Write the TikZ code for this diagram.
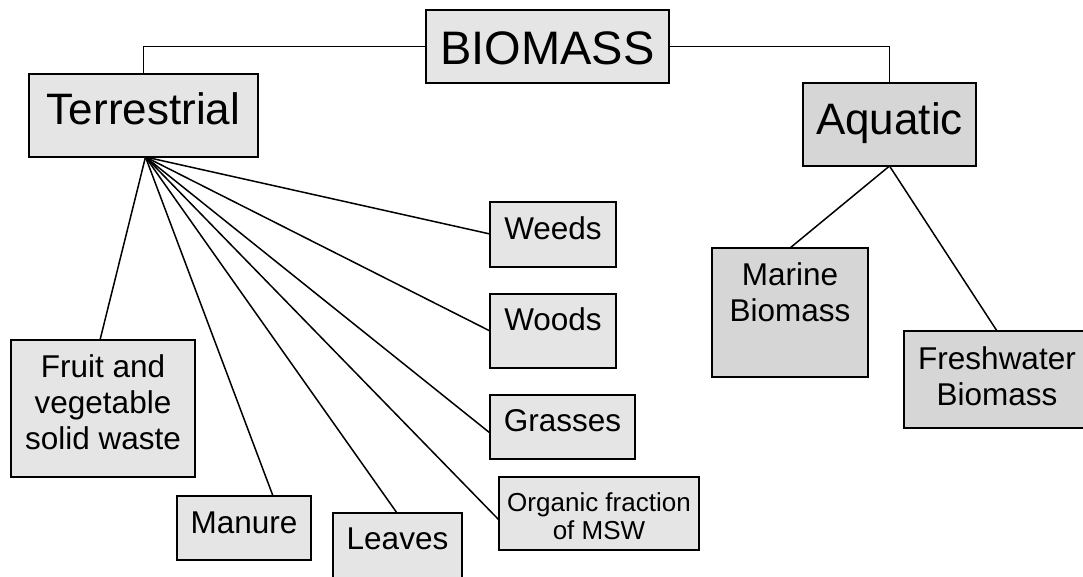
\documentclass[tikz,border=0pt]{standalone}
\usepackage{fontspec}
\setmainfont{Liberation Sans}
\definecolor{boxlight}{HTML}{E5E5E5}
\definecolor{boxdark}{HTML}{D6D6D6}
% \boxtext{width}{height}{top gap}{font size}{line skip}{text}
\newcommand{\boxtext}[6]{%
  \parbox[c][#2pt][t]{#1pt}{\centering\fontsize{#4pt}{#5pt}\selectfont
    \vspace*{#3pt}#6\par}}
\begin{document}
\begin{tikzpicture}[x=1pt,y=-1pt,
  box/.style={draw=black, line width=1.9pt, fill=boxlight, inner sep=0pt,
              outer sep=0pt, anchor=north west},
  wetbox/.style={box, fill=boxdark},
  link/.style={draw=black, line width=1.5pt}]
\useasboundingbox (0,0) rectangle (1083,577);

% root and the two main branches
\node[box]    (bio)   at (426,10)  {\boxtext{243}{73}{22}{47}{54}{BIOMASS}};
\node[box]    (terr)  at (29,74)   {\boxtext{229}{83}{19}{44}{50}{Terrestrial}};
\node[wetbox] (aqua)  at (803,83)  {\boxtext{173}{83}{20}{44}{50}{Aquatic}};

% terrestrial sources
\node[box] (weeds)   at (490,202) {\boxtext{126}{65}{15}{31.5}{36}{Weeds}};
\node[box] (woods)   at (490,294) {\boxtext{126}{74}{14}{31.5}{36}{Woods}};
\node[box] (grasses) at (490,395) {\boxtext{145}{64}{15}{31.5}{36}{Grasses}};
\node[box] (msw)     at (499,477) {\boxtext{200}{73}{16}{26}{27.5}{Organic fraction\\of MSW}};
\node[box] (leaves)  at (333,513) {\boxtext{129}{72}{15}{31.5}{36}{Leaves}};
\node[box] (manure)  at (177,496) {\boxtext{134}{64}{16}{31.5}{36}{Manure}};
\node[box] (fruit)   at (11,340)  {\boxtext{184}{137}{15}{31.5}{36}{Fruit and\\vegetable\\solid waste}};

% aquatic sources
\node[wetbox] (marine) at (712,248) {\boxtext{156}{129}{15}{31.5}{36}{Marine\\Biomass}};
\node[wetbox] (fresh)  at (904,331) {\boxtext{186}{97}{16}{31.5}{36}{Freshwater\\Biomass}};

% root connectors
\draw[link] (bio.west) -| (terr.north);
\draw[link] (bio.east) -| (aqua.north);

% fan of terrestrial connectors
\coordinate (hub) at ([xshift=2pt]terr.south);
\draw[link] (hub) -- ([xshift=-3pt]fruit.north);
\draw[link] (hub) -- ([xshift=96pt]manure.north west);
\draw[link] (hub) -- ([xshift=64pt]leaves.north west);
\draw[link] (hub) -- ([yshift=-43pt]msw.north west);
\draw[link] (hub) -- ([yshift=-38pt]grasses.north west);
\draw[link] (hub) -- ([yshift=-37pt]woods.north west);
\draw[link] (hub) -- ([yshift=-32pt]weeds.north west);

% aquatic connectors
\draw[link] (aqua.south) -- (marine.north);
\draw[link] (aqua.south) -- (fresh.north);
\end{tikzpicture}
\end{document}
